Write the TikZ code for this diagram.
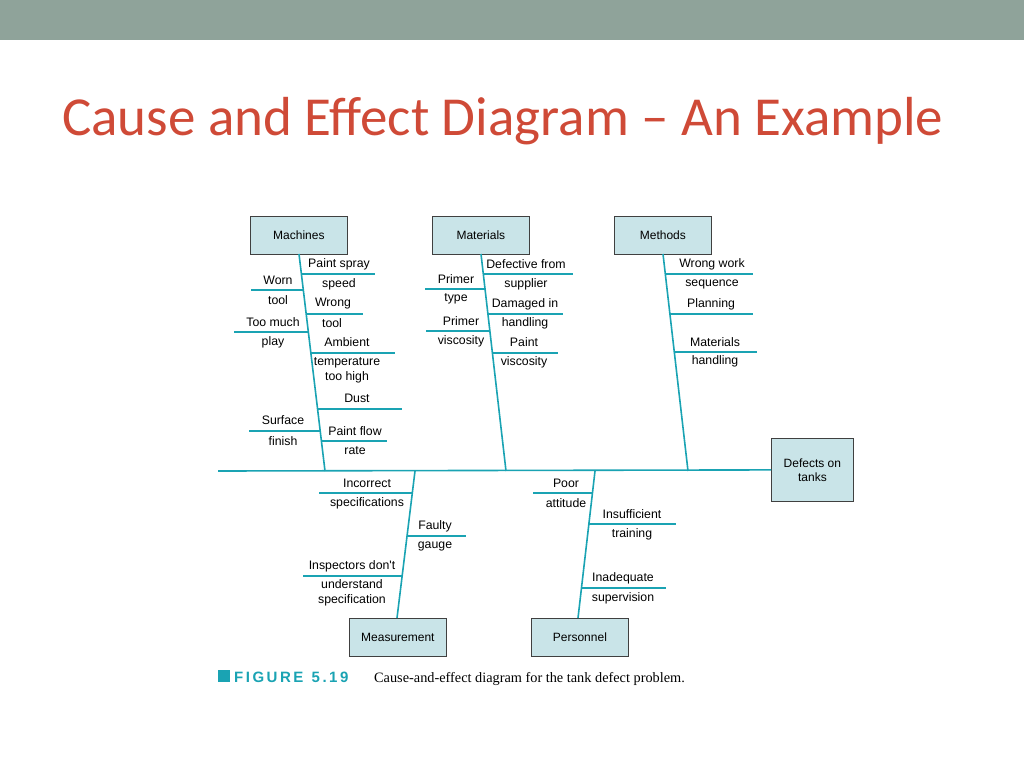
\documentclass[tikz,border=0pt]{standalone}
\usepackage{fontspec}
\setmainfont{Liberation Serif}
\newfontfamily\lab{Liberation Sans}
\newfontfamily\ttl{Carlito}
\definecolor{teal1}{HTML}{1AA3B3}
\definecolor{boxf}{HTML}{C9E4E8}
\definecolor{bar}{HTML}{8FA39A}
\definecolor{ttlc}{HTML}{CF4A37}
\begin{document}
\begin{tikzpicture}[x=1pt,y=-1pt,
 cat/.style={draw=black!75,fill=boxf,line width=0.8pt,minimum width=97pt,minimum height=38pt,font=\lab\fontsize{12}{14}\selectfont,inner sep=0},
 bone/.style={draw=teal1,line width=1.6pt},
 sub/.style={draw=teal1,line width=1.3pt},
 t/.style={font=\lab\fontsize{12.3}{15}\selectfont,inner sep=0,align=center}]
\useasboundingbox (0,0) rectangle (1024,768);
\fill[bar] (0,0) rectangle (1024,40);
\node[anchor=base west,text=ttlc,font=\ttl\fontsize{55}{58}\selectfont,inner sep=0] (title) at (62,135) {Cause and Effect Diagram – An Example};
% boxes
\node[cat,anchor=north west] (mach) at (250,216) {Machines};
\node[cat,anchor=north west] (mat) at (432,216) {Materials};
\node[cat,anchor=north west] (meth) at (614,216) {Methods};
\node[cat,anchor=north west] (meas) at (349,618) {Measurement};
\node[cat,anchor=north west] (pers) at (531,618) {Personnel};
\node[cat,anchor=north west,minimum width=82pt,minimum height=63pt,align=center] (eff) at (771,438) {Defects on\\tanks};
\coordinate (tail) at (218,471);
\draw[bone] (tail) -- (eff.west);
\coordinate (jm) at (325,471); \coordinate (ja) at (506,471); \coordinate (jt) at (688,471);
\coordinate (js) at (415,471); \coordinate (jp) at (595,471);
\draw[bone] (299,254) -- (jm);
\draw[bone] (481,254) -- (ja);
\draw[bone] (663,254) -- (jt);
\draw[bone] (397,618) -- (js);
\draw[bone] (578,618) -- (jp);
% Machines
\draw[sub] (301.4,274) -- (375,274); \node[t] (m1) at (339,264) {Paint spray}; \node[t] (m1b) at (339,284) {speed};
\draw[sub] (251,290) -- (303.3,290); \node[t] (m2) at (278,280) {Worn}; \node[t] (m2b) at (278,300) {tool};
\draw[sub] (306.2,314) -- (363,314); \node[t] (m3) at (333,304) {Wrong}; \node[t] (m3b) at (332,323) {tool};
\draw[sub] (234,332) -- (308.3,332); \node[t] (m4) at (273,322) {Too much}; \node[t] (m4b) at (273,342) {play};
\draw[sub] (310.9,353) -- (395,353); \node[t] (m5) at (347,342) {Ambient}; \node[t] (m5b) at (347,370) {temperature\\too high};
\draw[sub] (317.6,409) -- (402,409); \node[t] (m6) at (357,398) {Dust};
\draw[sub] (249,431) -- (320.2,431); \node[t] (m7) at (283,420) {Surface}; \node[t] (m7b) at (283,441) {finish};
\draw[sub] (321.4,441) -- (387,441); \node[t] (m8) at (355,431) {Paint flow}; \node[t] (m8b) at (355,451) {rate};
% Materials
\draw[sub] (483.3,274) -- (573,274); \node[t] (a1) at (526,264) {Defective from}; \node[t] (a1b) at (526,284) {supplier};
\draw[sub] (425,289) -- (485,289); \node[t] (a2) at (456,279) {Primer}; \node[t] (a2b) at (456,299) {type};
\draw[sub] (487.9,314) -- (563,314); \node[t] (a3) at (525,304) {Damaged in}; \node[t] (a3b) at (525,323) {handling};
\draw[sub] (426,331) -- (489.9,331); \node[t] (a4) at (461,321) {Primer}; \node[t] (a4b) at (461,341) {viscosity};
\draw[sub] (492.4,353) -- (558,353); \node[t] (a5) at (524,342) {Paint}; \node[t] (a5b) at (524,362) {viscosity};
% Methods
\draw[sub] (665.3,274) -- (753,274); \node[t] (t1) at (712,264) {Wrong work}; \node[t] (t1b) at (712,284) {sequence};
\draw[sub] (669.9,314) -- (753,314); \node[t] (t2) at (711,304) {Planning};
\draw[sub] (674.3,352) -- (757,352); \node[t] (t3) at (715,342) {Materials}; \node[t] (t3b) at (715,361) {handling};
% Measurement
\draw[sub] (319,493) -- (412.3,493); \node[t] (s1) at (367,483) {Incorrect}; \node[t] (s1b) at (367,503) {specifications};
\draw[sub] (407,536) -- (466,536); \node[t] (s2) at (435,526) {Faulty}; \node[t] (s2b) at (435,546) {gauge};
\draw[sub] (303,576) -- (402.1,576); \node[t] (s3) at (352,566) {Inspectors don't}; \node[t] (s3b) at (352,593) {understand\\specification};
% Personnel
\draw[sub] (533,493) -- (592.5,493); \node[t] (p1) at (566,483) {Poor}; \node[t] (p1b) at (566,503) {attitude};
\draw[sub] (588.9,524) -- (676,524); \node[t] (p2) at (632,514) {Insufficient}; \node[t] (p2b) at (632,534) {training};
\draw[sub] (581.5,588) -- (666,588); \node[t] (p3) at (623,578) {Inadequate}; \node[t] (p3b) at (623,598) {supervision};
% caption
\fill[teal1] (218,670) rectangle (230,682);
\node[anchor=base west,inner sep=0,text=teal1,font=\lab\bfseries\fontsize{15}{17}\selectfont] (fig) at (234,682) {F\,I\,G\,U\,R\,E\ \ 5\,.\,1\,9};
\node[anchor=base west,inner sep=0,font=\fontsize{14.3}{16}\selectfont] (cap) at (374,682) {Cause-and-effect diagram for the tank defect problem.};
\end{tikzpicture}
\end{document}
